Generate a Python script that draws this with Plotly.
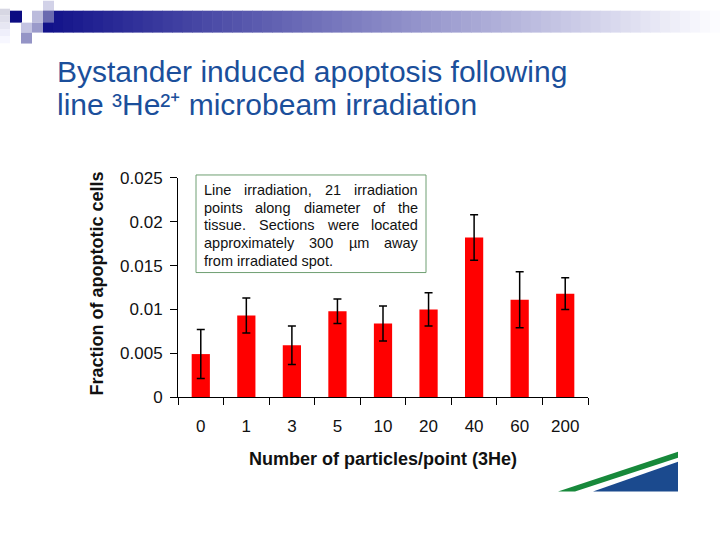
import plotly.graph_objects as go

# ---------------- data ----------------
categories = ["0", "1", "3", "5", "10", "20", "40", "60", "200"]
fraction = [0.0049, 0.0093, 0.0059, 0.0098, 0.0084, 0.0100, 0.0182, 0.0111, 0.0118]
err = [0.0028, 0.0020, 0.0022, 0.0014, 0.0020, 0.0019, 0.0026, 0.0032, 0.0018]
y_tick_vals = [0, 0.005, 0.01, 0.015, 0.02, 0.025]
y_tick_text = ["0", "0.005", "0.01", "0.015", "0.02", "0.025"]

title_line1 = "Bystander induced apoptosis following"
title_line2 = "line ³He²⁺ microbeam irradiation"
x_title = "<b>Number of particles/point (3He)</b>"
y_title = "<b>Fraction of apoptotic cells</b>"
note_lines = [
    "Line irradiation, 21 irradiation",
    "points along diameter of the",
    "tissue. Sections were located",
    "approximately 300 µm away",
    "from irradiated spot.",
]

W, H = 720, 540
FONT = "Arial, Liberation Sans, sans-serif"
# vertical placement correction observed in the photographed page
V_OFF, V_SCALE = 8.3, 0.969


def px(x):
    return x / W


def py(y):
    return 1 - ((y - V_OFF) / V_SCALE) / H


fig = go.Figure()
fig.add_trace(go.Bar(
    x=categories, y=fraction,
    marker=dict(color="#ff0000", line=dict(width=0)),
    width=0.4,
    error_y=dict(type="data", array=err, visible=True, color="#000000",
                 thickness=1.5, width=4),
    showlegend=False,
))

shapes = []
annotations = []

# --- top decoration: gradient bar built from thin rectangles ---
x0, x1 = 43, 720
n = 68
c0 = (18, 18, 138)
c1 = (252, 252, 255)
for i in range(n):
    t = i / (n - 1)
    col = tuple(int(round(c0[k] + (c1[k] - c0[k]) * t)) for k in range(3))
    xa = x0 + (x1 - x0) * i / n
    xb = x0 + (x1 - x0) * (i + 1) / n + 0.6
    shapes.append(dict(type="rect", xref="paper", yref="paper",
                       x0=px(xa), x1=px(xb), y0=py(32), y1=py(10),
                       fillcolor="rgb(%d,%d,%d)" % col, line=dict(width=0), layer="below"))
# left faint gradient column
for i in range(6):
    t = i / 5
    v = int(round(255 - 40 * (1 - t)))
    shapes.append(dict(type="rect", xref="paper", yref="paper",
                       x0=px(0), x1=px(10), y0=py(8 + 7 * (i + 1)), y1=py(max(0, 8 + 7 * i)),
                       fillcolor="rgb(%d,%d,%d)" % (v, v, min(255, v + 12)), line=dict(width=0), layer="below"))
squares = [
    (10, 10, 22, 22, "#0c0c82"),
    (43, 0, 54, 10, "#d2d2e8"),
    (32, 10, 43, 22, "#bcbcdc"),
    (21, 22, 32, 32, "#c4c4e2"),
    (32, 22, 43, 32, "#9a9aca"),
    (21, 32, 32, 43, "#9494c6"),
    (43, 10, 54, 22, "#6a6ab0"),
]
for (a, b, c, d, col) in squares:
    shapes.append(dict(type="rect", xref="paper", yref="paper",
                       x0=px(a), x1=px(c), y0=py(d), y1=py(b),
                       fillcolor=col, line=dict(width=0), layer="below"))

# --- bottom-right swoosh ---
def path(pts):
    s = "M " + " L ".join("%f,%f" % (px(a), py(b)) for a, b in pts) + " Z"
    return s

shapes.append(dict(type="path", xref="paper", yref="paper",
                   path=path([(558, 493), (678, 453), (678, 459), (575, 493)]),
                   fillcolor="#17893b", line=dict(width=0)))
shapes.append(dict(type="path", xref="paper", yref="paper",
                   path=path([(593, 493), (678, 463), (678, 493)]),
                   fillcolor="#1b4a8e", line=dict(width=0)))

# --- annotation box ---
shapes.append(dict(type="rect", xref="paper", yref="paper",
                   x0=px(196), x1=px(426), y0=py(273), y1=py(175),
                   fillcolor="white", line=dict(color="#6f9f72", width=1)))

# Arial widths (per 1000 em) for justification
AW = {c: 556 for c in "abdeghnopqu0123456789µ"}
AW.update({"c": 500, "k": 500, "s": 500, "v": 500, "x": 500, "y": 500, "z": 500,
           "f": 278, "t": 278, "i": 222, "j": 222, "l": 222, "m": 833, "r": 333,
           "w": 722, "L": 556, "S": 667, ",": 278, ".": 278, " ": 278})


def text_w(s, fs):
    return sum(AW.get(ch, 556) for ch in s) * fs / 1000.0


fs_note = 14.5
left, right = 203, 417
line_y = [190, 208, 225.5, 243, 261]
for li, line in enumerate(note_lines):
    words = line.split(" ")
    if li == len(note_lines) - 1:
        annotations.append(dict(xref="paper", yref="paper", x=px(left), y=py(line_y[li]),
                                text=line, showarrow=False, xanchor="left", yanchor="middle",
                                borderpad=0,
                                font=dict(family=FONT, size=fs_note, color="#111111")))
        continue
    widths = [text_w(w, fs_note) for w in words]
    gap = (right - left - sum(widths)) / (len(words) - 1)
    xpos = left
    for w, ww in zip(words, widths):
        annotations.append(dict(xref="paper", yref="paper", x=px(xpos), y=py(line_y[li]),
                                text=w, showarrow=False, xanchor="left", yanchor="middle",
                                borderpad=0,
                                font=dict(family=FONT, size=fs_note, color="#111111")))
        xpos += ww + gap

# --- titles ---
annotations.append(dict(xref="paper", yref="paper", x=px(56), y=py(71), text=title_line1,
                        showarrow=False, xanchor="left", yanchor="middle", height=38,
                        borderpad=0,
                        font=dict(family=FONT, size=30, color="#1b4f9b")))
annotations.append(dict(xref="paper", yref="paper", x=px(56), y=py(103.5), text=title_line2,
                        showarrow=False, xanchor="left", yanchor="middle", height=26,
                        borderpad=0,
                        font=dict(family=FONT, size=30, color="#1b4f9b")))
annotations.append(dict(xref="paper", yref="paper", x=px(383), y=py(460), text=x_title,
                        showarrow=False, xanchor="center", yanchor="middle",
                        font=dict(family=FONT, size=18, color="#111111")))
annotations.append(dict(xref="paper", yref="paper", x=px(97), y=py(284), text=y_title,
                        showarrow=False, xanchor="center", yanchor="middle", textangle=-90,
                        font=dict(family=FONT, size=18, color="#111111")))

fig.update_layout(
    width=W, height=H,
    margin=dict(l=0, r=0, t=0, b=0),
    paper_bgcolor="white", plot_bgcolor="white",
    shapes=shapes, annotations=annotations,
    xaxis=dict(domain=[px(178), px(588)], range=[-0.5, 8.5], type="category",
               showline=True, linecolor="black", linewidth=1, mirror=False,
               ticks="outside", tickson="boundaries", ticklen=7, tickcolor="black",
               showgrid=False, zeroline=False, ticklabelstandoff=14,
               tickfont=dict(family=FONT, size=17, color="#111111")),
    yaxis=dict(domain=[py(398), py(178)], range=[0, 0.025],
               tickvals=y_tick_vals, ticktext=y_tick_text,
               showline=True, linecolor="black", linewidth=1,
               ticks="outside", ticklen=7, tickcolor="black",
               showgrid=False, zeroline=False, ticklabelstandoff=4,
               tickfont=dict(family=FONT, size=17, color="#111111")),
    bargap=0.6,
)

post = (
    "document.documentElement.style.cssText='margin:0;padding:0;overflow:hidden;height:540px;width:720px';"
    "document.body.style.cssText='margin:0;padding:0;overflow:hidden;height:540px;width:720px';"
    "var gd=document.getElementById('{plot_id}');"
    "gd.style.position='fixed';gd.style.top='0px';gd.style.left='0px';"
)

fig.write_html(
    "out.html",
    config={"displayModeBar": False, "staticPlot": True},
    post_script=post,
)
